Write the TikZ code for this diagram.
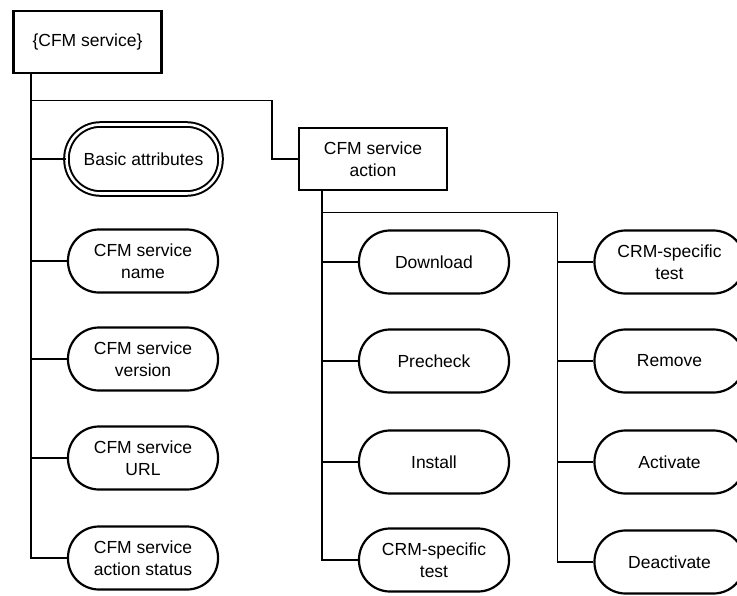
\documentclass[tikz,border=0pt]{standalone}
\usepackage{fontspec}
\setmainfont{Liberation Sans}
\begin{document}
\begin{tikzpicture}[x=1pt,y=-1pt,
  every node/.style={font=\fontsize{17.5}{22}\selectfont, align=center, inner sep=0pt},
  pill/.style={draw, line width=2.2pt, rounded corners=31pt, minimum width=150pt, minimum height=63pt},
  dpill/.style={draw, line width=2pt, double, double distance=2.6pt, rounded corners=34pt, minimum width=154pt, minimum height=69pt},
  boxnode/.style={draw, line width=2.8pt, minimum width=148pt, minimum height=62pt},
  conn/.style={line width=1.8pt}]
\fill[white] (0,0) rectangle (737,595);
\useasboundingbox (0,0) rectangle (737,595);

\node[boxnode] (root) at (87.5,42) {\{CFM service\}};
\node[dpill] (basic) at (143.5,159) {Basic attributes};
\node[pill] (name) at (143,261) {CFM service\\name};
\node[pill] (version) at (143,359) {CFM service\\version};
\node[pill] (url) at (143,458) {CFM service\\URL};
\node[pill] (status) at (143,558) {CFM service\\action status};

\node[boxnode] (action) at (373,159) {CFM service\\action};
\node[pill] (download) at (434,262) {Download};
\node[pill] (precheck) at (434,361) {Precheck};
\node[pill] (install) at (434,462) {Install};
\node[pill] (crmA) at (434,560) {CRM-specific\\test};

\node[pill] (crmB) at (669.5,262) {CRM-specific\\test};
\node[pill] (remove) at (669.5,361) {Remove};
\node[pill] (activate) at (669.5,462) {Activate};
\node[pill] (deact) at (669.5,562) {Deactivate};

% left trunk
\coordinate (tr) at ([xshift=19pt]root.south west);
\draw[conn] (tr) |- (status.west);
\foreach \n in {basic,name,version,url} \draw[conn] (\n.west) -- (\n.west -| tr);
\draw[conn] ([yshift=-26pt]tr) -| ([xshift=-26pt]action.west) -- (action.west);

% action trunk
\coordinate (trb) at ([xshift=24pt]action.south west);
\draw[conn] (trb) |- (crmA.west);
\foreach \n in {download,precheck,install} \draw[conn] (\n.west) -- (\n.west -| trb);
\draw[conn] ([yshift=-21pt]trb) -| ([xshift=-36pt]deact.west) -- (deact.west);
\foreach \n in {crmB,remove,activate} \draw[conn] (\n.west) -- ++(-36pt,0);
\end{tikzpicture}
\end{document}
